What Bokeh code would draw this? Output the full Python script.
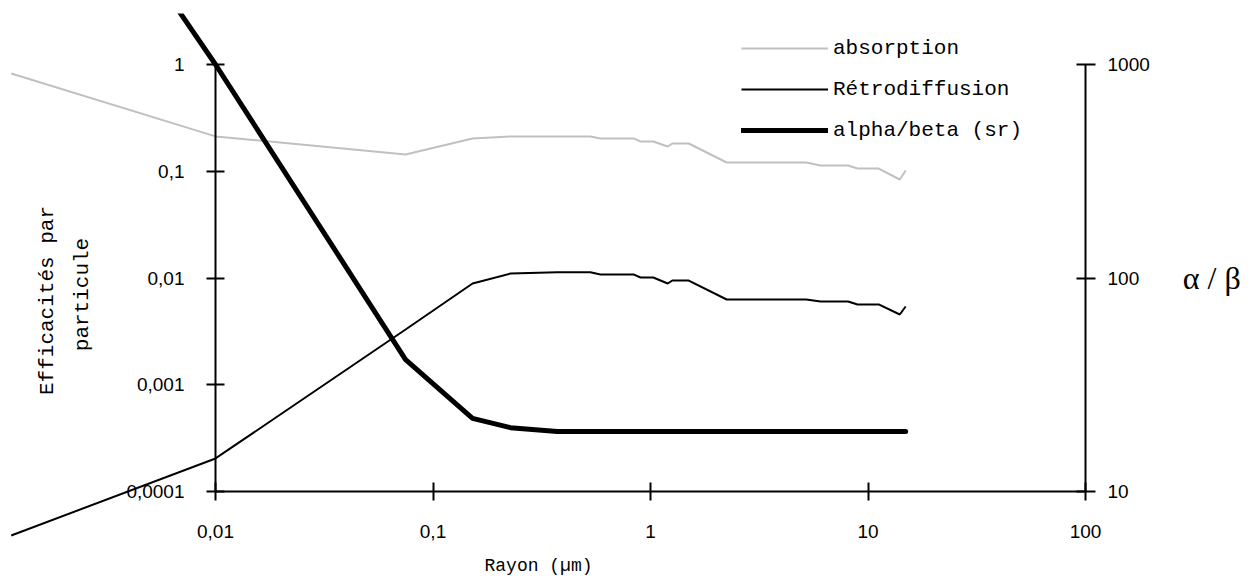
import math
from bokeh.plotting import figure
from bokeh.models import (Range1d, LogAxis, LogScale, FixedTicker, CustomJSTickFormatter,
                          Label, Legend, LegendItem)
from bokeh.embed import file_html
from bokeh.resources import INLINE

# ---- data ----
rayon = [0.00115, 0.01, 0.0748, 0.152, 0.227, 0.373, 0.529, 0.589, 0.835, 0.90, 1.03,
         1.20, 1.26, 1.50, 2.24, 5.2, 6.05, 8.1, 8.95, 11.2, 14.0, 14.9]
absorption = [0.824, 0.212, 0.1436, 0.203, 0.212, 0.212, 0.212, 0.203, 0.203, 0.190, 0.190,
              0.1706, 0.182, 0.182, 0.1208, 0.1208, 0.1133, 0.1133, 0.106, 0.106, 0.0837, 0.1016]
retro = [3.87e-5, 2.04e-4, 3.29e-3, 8.88e-3, 0.0110, 0.0113, 0.0113, 0.0108, 0.0108, 0.0101, 0.0101,
         0.00888, 0.00947, 0.00947, 0.00629, 0.00629, 0.00603, 0.00603, 0.00565, 0.00565, 0.00455, 0.00541]
alpha_beta = [25000, 1000, 41.5, 22.0, 19.9, 19.1, 19.1, 19.1, 19.1, 19.1, 19.1,
              19.1, 19.1, 19.1, 19.1, 19.1, 19.1, 19.1, 19.1, 19.1, 19.1, 19.1]

x_ticks = [0.01, 0.1, 1, 10, 100]
y_ticks = [0.0001, 0.001, 0.01, 0.1, 1]
r_ticks = [10, 100, 1000]

series_names = ["absorption", "Rétrodiffusion", "alpha/beta (sr)"]

MONO = "Liberation Mono"
SANS = "Liberation Sans"

FW, FH = 1235, 567
p = figure(frame_width=FW, frame_height=FH,
           x_axis_type="log", y_axis_type="log",
           x_range=Range1d(10 ** (-2 - 205 / 217.5), 10 ** (-2 + 1030 / 217.5)),
           y_range=Range1d(10 ** (-516 / 106.75), 10 ** (51 / 106.75)),
           min_border_left=10, min_border_top=13, min_border_bottom=0, min_border_right=0,
           output_backend="svg", toolbar_location=None,
           background_fill_color="white", border_fill_color="white")
p.outline_line_color = None
p.grid.visible = False

p.extra_y_ranges = {"ab": Range1d(10 ** (3 - 516 / 213.5), 10 ** (3 + 51 / 213.5))}
p.extra_y_scales = {"ab": LogScale()}

fmt = CustomJSTickFormatter(code="return tick.toString().replace('.', ',');")

def style_axis(ax):
    ax.major_tick_in = 9
    ax.major_tick_out = 9
    ax.minor_tick_in = 0
    ax.minor_tick_out = 0
    ax.axis_line_width = 2
    ax.major_tick_line_width = 2
    ax.axis_line_color = "black"
    ax.major_tick_line_color = "black"
    ax.major_label_text_font = SANS
    ax.major_label_text_font_size = "19px"
    ax.major_label_text_color = "black"
    ax.formatter = fmt

xa = p.xaxis[0]
style_axis(xa)
xa.ticker = FixedTicker(ticks=x_ticks)
xa.fixed_location = 0.0001
xa.bounds = (0.01, 100)
xa.major_label_standoff = 24

ya = p.yaxis[0]
style_axis(ya)
ya.ticker = FixedTicker(ticks=y_ticks)
ya.fixed_location = 0.01
ya.bounds = (0.0001, 1)
ya.major_label_standoff = 22

ra = LogAxis(y_range_name="ab")
style_axis(ra)
ra.ticker = FixedTicker(ticks=r_ticks)
ra.bounds = (10, 1000)
ra.fixed_location = 100
ra.major_tick_out = 10
ra.major_label_standoff = 12
ra.axis_label = "α / β"
ra.axis_label_orientation = "horizontal"
ra.axis_label_text_font = "Liberation Serif"
ra.axis_label_text_font_style = "normal"
ra.axis_label_text_font_size = "32px"
ra.axis_label_text_color = "black"
ra.axis_label_standoff = 30
p.add_layout(ra, "right")

r_abs = p.line(rayon, absorption, line_color="#c0c0c0", line_width=2)
r_ret = p.line(rayon, retro, line_color="black", line_width=2)
r_ab = p.line(rayon, alpha_beta, line_color="black", line_width=5, line_cap="round",
              line_join="round", y_range_name="ab")

legend = Legend(items=[LegendItem(label=series_names[0], renderers=[r_abs]),
                       LegendItem(label=series_names[1], renderers=[r_ret]),
                       LegendItem(label=series_names[2], renderers=[r_ab])],
                location=(731, 438), padding=0, margin=0, spacing=17,
                glyph_width=87, glyph_height=24, label_height=24, label_standoff=5,
                label_text_font=MONO, label_text_font_size="21px", label_text_color="black",
                border_line_color=None, background_fill_alpha=0)
p.add_layout(legend)

p.add_layout(Label(x=37, y=280, x_units="screen", y_units="screen", text="Efficacités par",
                   angle=math.pi / 2, text_align="center", text_baseline="middle",
                   text_font=MONO, text_font_size="21px", text_color="black"))
p.add_layout(Label(x=72, y=286, x_units="screen", y_units="screen", text="particule",
                   angle=math.pi / 2, text_align="center", text_baseline="middle",
                   text_font=MONO, text_font_size="21px", text_color="black"))
p.add_layout(Label(x=528, y=15, x_units="screen", y_units="screen", text="Rayon (µm)",
                   text_align="center", text_baseline="middle",
                   text_font=MONO, text_font_size="18px", text_color="black"))

open("out.html", "w").write(file_html(p, INLINE))
